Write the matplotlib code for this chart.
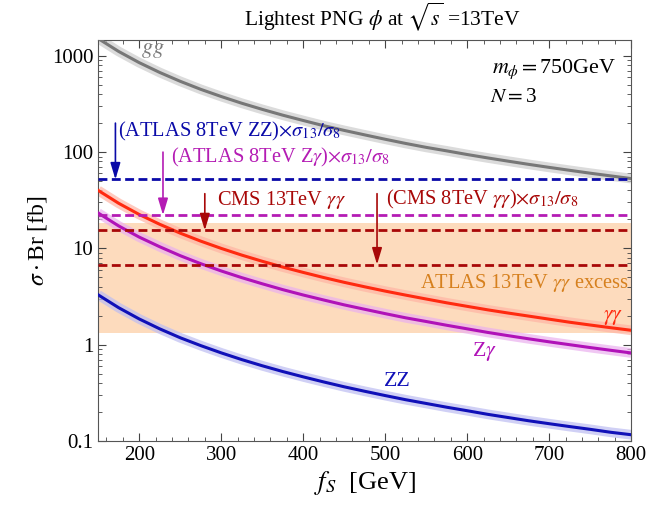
import matplotlib
matplotlib.use("Agg")
import matplotlib.pyplot as plt
from matplotlib.ticker import FixedLocator, MultipleLocator, NullFormatter, LogLocator

plt.rcParams['font.family'] = ['Liberation Serif', 'DejaVu Serif']
plt.rcParams['mathtext.fontset'] = 'stix'

# data
f_S = [150, 175, 200, 225, 250, 275, 300, 325, 350, 375, 400, 425, 450, 475,
       500, 525, 550, 575, 600, 625, 650, 675, 700, 725, 750, 775, 800]
sigma_gg = [1511, 1110, 850, 672, 544, 449, 378, 322, 278, 242, 213, 188, 168, 151,
            136, 123, 112, 103, 94.4, 87.0, 80.5, 74.6, 69.4, 64.7, 60.4, 56.6, 53.1]
sigma_aa = [40.0, 29.4, 22.5, 17.8, 14.4, 11.9, 10.0, 8.52, 7.35, 6.40, 5.63, 4.98, 4.44, 3.99,
            3.60, 3.27, 2.98, 2.72, 2.50, 2.30, 2.13, 1.98, 1.84, 1.71, 1.60, 1.50, 1.41]
sigma_Za = [23.3, 17.1, 13.1, 10.4, 8.40, 6.94, 5.83, 4.97, 4.29, 3.73, 3.28, 2.91, 2.59, 2.33,
            2.10, 1.90, 1.74, 1.59, 1.46, 1.34, 1.24, 1.15, 1.07, 0.999, 0.933, 0.874, 0.820]
sigma_ZZ = [3.29, 2.42, 1.85, 1.46, 1.18, 0.978, 0.822, 0.700, 0.604, 0.526, 0.463, 0.410, 0.365, 0.328,
            0.296, 0.268, 0.245, 0.224, 0.206, 0.189, 0.175, 0.162, 0.151, 0.141, 0.132, 0.123, 0.116]

limit_ATLAS8_ZZ = 52
limit_ATLAS8_Za = 22.2
limit_CMS13_aa = 15.4
limit_CMS8_aa = 6.8
excess_band = [1.33, 18.2]

x_ticks = [200, 300, 400, 500, 600, 700, 800]
y_ticks = [0.1, 1, 10, 100, 1000]
y_tick_labels = ['0.1', '1', '10', '100', '1000']

fig = plt.figure(figsize=(6.68, 5.08), dpi=100)
ax = fig.add_axes([0.147, 0.132, 0.798, 0.789])
ax.set_yscale('log')
ax.set_xlim(150, 800)
ax.set_ylim(0.1, 1456)

# excess band
ax.axhspan(excess_band[0], excess_band[1], color='#fddbbd', zorder=0, lw=0)

# curves with uncertainty glow
curves = [(sigma_gg, '#777777', '#cccccc'),
          (sigma_aa, '#ff2a10', '#ffb4a4'),
          (sigma_Za, '#b012b8', '#eab0ee'),
          (sigma_ZZ, '#1010b8', '#bcbcf2')]
for ys, c, cg in curves:
    ax.plot(f_S, ys, color=cg, lw=7, alpha=0.7, solid_capstyle='butt', zorder=2)
    ax.plot(f_S, ys, color=c, lw=2.2, zorder=3)

# limit lines
dash = (0, (3.2, 1.6))
ax.axhline(limit_ATLAS8_ZZ, color='#0a0aa8', lw=2, ls=dash, zorder=4)
ax.axhline(limit_ATLAS8_Za, color='#b41cb4', lw=2, ls=dash, zorder=4)
ax.axhline(limit_CMS13_aa, color='#a80808', lw=2, ls=dash, zorder=4)
ax.axhline(limit_CMS8_aa, color='#a80808', lw=2, ls=dash, zorder=4)

# arrows
def arrow(x, y0, y1, c):
    ax.annotate('', xy=(x, y1), xytext=(x, y0),
                arrowprops=dict(arrowstyle='-|>,head_length=1.0,head_width=0.3', color=c, lw=1.2,
                                shrinkA=0, shrinkB=0), zorder=5)

arrow(171, 200, limit_ATLAS8_ZZ, '#0a0aa8')
arrow(229, 100, limit_ATLAS8_Za, '#b41cb4')
arrow(280, 37, limit_CMS13_aa, '#a80808')
arrow(490, 37, limit_CMS8_aa, '#a80808')

fs = 14.7
ax.text(174, 164, r'(ATLAS 8TeV ZZ)$\times\sigma_{13}/\sigma_8$', color='#0a0aa8', fontsize=fs, va='center', ha='left')
ax.text(239, 88, r'(ATLAS 8TeV Z$\gamma$)$\times\sigma_{13}/\sigma_8$', color='#b41cb4', fontsize=fs, va='center', ha='left')
ax.text(295, 32, r'CMS 13TeV $\gamma\gamma$', color='#a80808', fontsize=fs, va='center', ha='left')
ax.text(501, 32, r'(CMS 8TeV $\gamma\gamma$)$\times\sigma_{13}/\sigma_8$', color='#a80808', fontsize=fs, va='center', ha='left')
ax.text(797, 4.4, r'ATLAS 13TeV $\gamma\gamma$ excess', color='#d6801e', fontsize=fs, va='center', ha='right')
ax.text(790, 1.9, r'$\gamma\gamma$', color='#ff2a10', fontsize=fs + 1, va='center', ha='right')
ax.text(621, 0.84, r'Z$\gamma$', color='#b012b8', fontsize=fs + 1, va='center', ha='center')
ax.text(515, 0.41, r'ZZ', color='#1010b8', fontsize=fs + 1, va='center', ha='center')
ax.text(216, 1070, r'$gg$', color='#7a7a7a', fontsize=16, va='baseline', ha='center')
ax.text(782, 660, r'$m_\phi=$750GeV', color='black', fontsize=15.8, va='baseline', ha='right')
ax.text(628, 331, r'$N=$3', color='black', fontsize=15.3, va='baseline', ha='left')

fig.text(382 / 668, 1 - 25 / 508, r'Lightest PNG $\phi$ at $\sqrt{s}$ =13TeV', fontsize=15.5,
         ha='center', va='baseline')
ax.set_xlabel(r'$f_S$  [GeV]', fontsize=19, labelpad=3)
ax.set_ylabel(r'$\sigma\cdot$Br [fb]', fontsize=17, labelpad=2)

ax.xaxis.set_major_locator(FixedLocator(x_ticks))
ax.xaxis.set_minor_locator(MultipleLocator(20))
ax.yaxis.set_major_locator(FixedLocator(y_ticks))
ax.set_yticklabels(y_tick_labels)
ax.yaxis.set_minor_locator(LogLocator(base=10, subs=range(2, 10)))
ax.yaxis.set_minor_formatter(NullFormatter())
ax.tick_params(which='both', direction='in', top=True, right=True, colors='#444444', labelcolor='black', labelsize=15)
ax.tick_params(which='major', length=6, width=0.8)
ax.tick_params(which='minor', length=3, width=0.6)
for s in ax.spines.values():
    s.set_color('#555555')

fig.savefig('out.png', dpi=100)
